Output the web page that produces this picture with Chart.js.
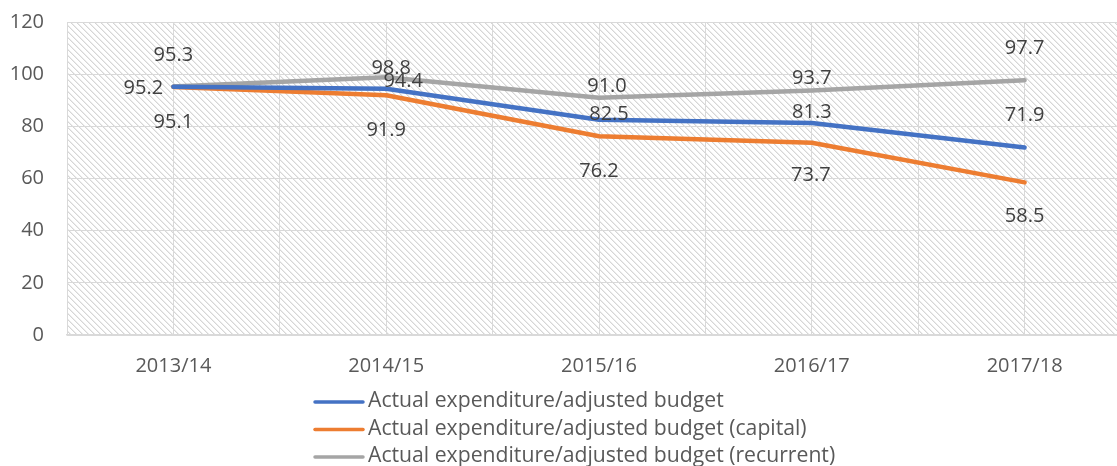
<!DOCTYPE html>
<html>
<head>
<meta charset="utf-8">
<script src="https://cdn.jsdelivr.net/npm/chart.js@4.4.1/dist/chart.umd.min.js"></script>
<style>
  html, body { margin: 0; padding: 0; background: #fff; overflow: hidden; }
  #wrap { position: relative; width: 1131px; height: 466px; }
</style>
</head>
<body>
<div id="wrap"><canvas id="c"></canvas></div>
<script>
const categories = ['2013/14', '2014/15', '2015/16', '2016/17', '2017/18'];
const seriesNames = [
  'Actual expenditure/adjusted budget',
  'Actual expenditure/adjusted budget (capital)',
  'Actual expenditure/adjusted budget (recurrent)'
];
const overall   = [95.2, 94.4, 82.5, 81.3, 71.9];
const capital   = [95.1, 91.9, 76.2, 73.7, 58.5];
const recurrent = [95.3, 98.8, 91.0, 93.7, 97.7];
const yTicks = [0, 20, 40, 60, 80, 100, 120];

const colors = ['#4472C4', '#ED7D31', '#A5A5A5'];
// label offsets in pixels (dx, dy) relative to each point
const labelOffsets = [
  [[-30, 2], [17, -7], [10, -6], [0, -11], [0, -32]],
  [[0, 35], [0, 35], [0, 35], [-1, 33], [0, 34]],
  [[0, -31], [5, -9], [8, -11], [0, -12], [0, -32]]
];

function makePattern(ctx) {
  const n = 6;
  const t = document.createElement('canvas');
  t.width = n; t.height = n;
  const g = t.getContext('2d');
  g.fillStyle = '#ffffff';
  g.fillRect(0, 0, n, n);
  for (let i = 0; i < n; i++) {
    g.fillStyle = '#d6d6d6';
    g.fillRect(i, i, 1, 1);
    g.fillStyle = '#ececec';
    g.fillRect((i + 1) % n, i, 1, 1);
  }
  return ctx.createPattern(t, 'repeat');
}

const toPts = arr => arr.map((v, i) => ({ x: i, y: v }));
const allSeries = [overall, capital, recurrent];

const bgPlugin = {
  id: 'hatchBg',
  beforeDraw(chart) {
    const { ctx, chartArea: a } = chart;
    ctx.save();
    ctx.fillStyle = makePattern(ctx);
    ctx.fillRect(a.left, a.top, a.right - a.left, a.bottom - a.top);
    ctx.restore();
  }
};

const labelPlugin = {
  id: 'pointLabels',
  afterDatasetsDraw(chart) {
    const ctx = chart.ctx;
    ctx.save();
    ctx.font = '20px "Open Sans"';
    ctx.fillStyle = '#404040';
    ctx.textAlign = 'center';
    ctx.textBaseline = 'middle';
    chart.data.datasets.forEach((ds, di) => {
      const meta = chart.getDatasetMeta(di);
      meta.data.forEach((pt, i) => {
        const off = labelOffsets[di][i];
        ctx.fillText(ds.data[i].y.toFixed(1), pt.x + off[0], pt.y + off[1]);
      });
    });
    ctx.restore();
  }
};

const legendPlugin = {
  id: 'stackLegend',
  afterDraw(chart) {
    const ctx = chart.ctx;
    ctx.save();
    ctx.font = '21.2px "Open Sans"';
    ctx.textBaseline = 'middle';
    ctx.textAlign = 'left';
    const left = chart.chartArea.left + 246;
    const top = chart.chartArea.bottom + 67;
    chart.data.datasets.forEach((ds, i) => {
      const y = top + i * 27.5;
      ctx.strokeStyle = ds.borderColor;
      ctx.lineWidth = 3.5;
      ctx.lineCap = 'round';
      ctx.beginPath();
      ctx.moveTo(left + 2, y);
      ctx.lineTo(left + 50, y);
      ctx.stroke();
      ctx.fillStyle = '#595959';
      ctx.fillText(ds.label, left + 55, y - 1);
    });
    ctx.restore();
  }
};

new Chart(document.getElementById('c'), {
  type: 'line',
  data: {
    datasets: allSeries.map((arr, i) => ({
      label: seriesNames[i],
      data: toPts(arr),
      borderColor: colors[i],
      backgroundColor: colors[i],
      borderWidth: 4.5,
      pointRadius: 0,
      borderCapStyle: 'round',
      borderJoinStyle: 'round',
      tension: 0
    }))
  },
  options: {
    responsive: true,
    maintainAspectRatio: false,
    animation: false,
    layout: { padding: { top: 22, left: 0, right: 0, bottom: 0 } },
    plugins: {
      legend: { display: false },
      tooltip: { enabled: false }
    },
    scales: {
      x: {
        type: 'linear',
        min: -0.5,
        max: categories.length - 0.5,
        afterFit(scale) {
          scale.height = 131;
          scale.paddingLeft = 0;
          scale.paddingRight = 0;
        },
        ticks: {
          stepSize: 0.5,
          autoSkip: false,
          maxRotation: 0,
          padding: 19,
          color: '#595959',
          font: { family: 'Open Sans', size: 20 },
          callback(v) { return Number.isInteger(v) ? categories[v] : ''; }
        },
        grid: { color: '#d9d9d9', lineWidth: 1, drawTicks: false },
        border: { color: '#d9d9d9', width: 1.5 }
      },
      y: {
        min: 0,
        max: 120,
        afterFit(scale) {
          scale.width = 67;
          scale.paddingTop = 0;
          scale.paddingBottom = 0;
        },
        afterBuildTicks(scale) { scale.ticks = yTicks.map(v => ({ value: v })); },
        ticks: {
          padding: 23,
          color: '#595959',
          font: { family: 'Open Sans', size: 20 }
        },
        grid: { color: '#d9d9d9', lineWidth: 1, drawTicks: false },
        border: { color: '#d9d9d9', width: 1 }
      }
    }
  },
  plugins: [bgPlugin, labelPlugin, legendPlugin]
});
</script>
</body>
</html>
